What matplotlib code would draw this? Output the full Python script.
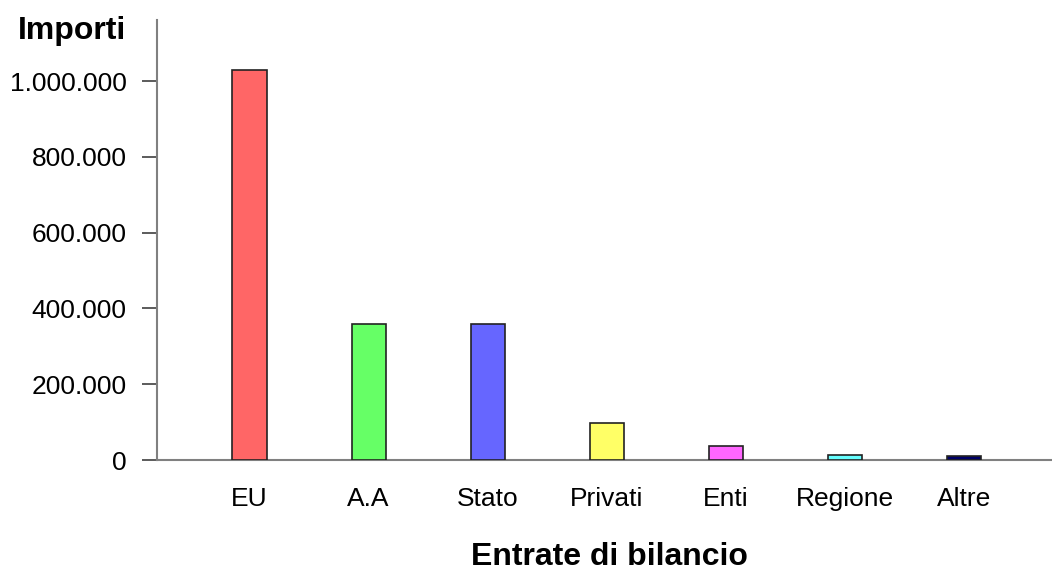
import matplotlib
matplotlib.use('Agg')
import matplotlib.pyplot as plt
from matplotlib.ticker import FuncFormatter
import numpy as np

categories = ['EU', 'A.A', 'Stato', 'Privati', 'Enti', 'Regione', 'Altre']
importi = [1030000, 360000, 358000, 97000, 38000, 12500, 11000]
colors = ['#FF6666', '#66FF66', '#6666FF', '#FFFF66', '#FF66FF', '#66FFFF', '#000066']
y_ticks = [0, 200000, 400000, 600000, 800000, 1000000]

plt.rcParams['font.family'] = ['Liberation Sans', 'DejaVu Sans']

fig = plt.figure(figsize=(10.52, 5.72), dpi=100)
ax = fig.add_axes([157 / 1052, 1 - 460 / 572, 1 - 157 / 1052, 440 / 572])

x = np.arange(len(categories))
ax.bar(x, importi, width=0.286, color=colors, edgecolor='#222222', linewidth=1.2, zorder=3)

ax.set_xlim(-0.777, 6.74)
ax.set_ylim(0, 1161000)
ax.set_yticks(y_ticks)
ax.yaxis.set_major_formatter(FuncFormatter(lambda v, p: f'{int(v):,}'.replace(',', '.')))
ax.set_xticks(x)
ax.set_xticklabels(categories)

for s in ['top', 'right']:
    ax.spines[s].set_visible(False)
for s in ['left', 'bottom']:
    ax.spines[s].set_color('#808080')
    ax.spines[s].set_linewidth(1.5)

ax.tick_params(axis='y', direction='out', length=11, width=1.2, color='#404040',
               labelsize=19, pad=11)
ax.tick_params(axis='x', length=0, labelsize=19, pad=19.5)

fig.text(72 / 1052, 1 - 31 / 572, 'Importi', ha='center', va='center',
         fontsize=23, fontweight='bold')
fig.text(609 / 1052, 1 - 557 / 572, 'Entrate di bilancio', ha='center', va='center',
         fontsize=23, fontweight='bold')

fig.savefig('out.png', dpi=100)
